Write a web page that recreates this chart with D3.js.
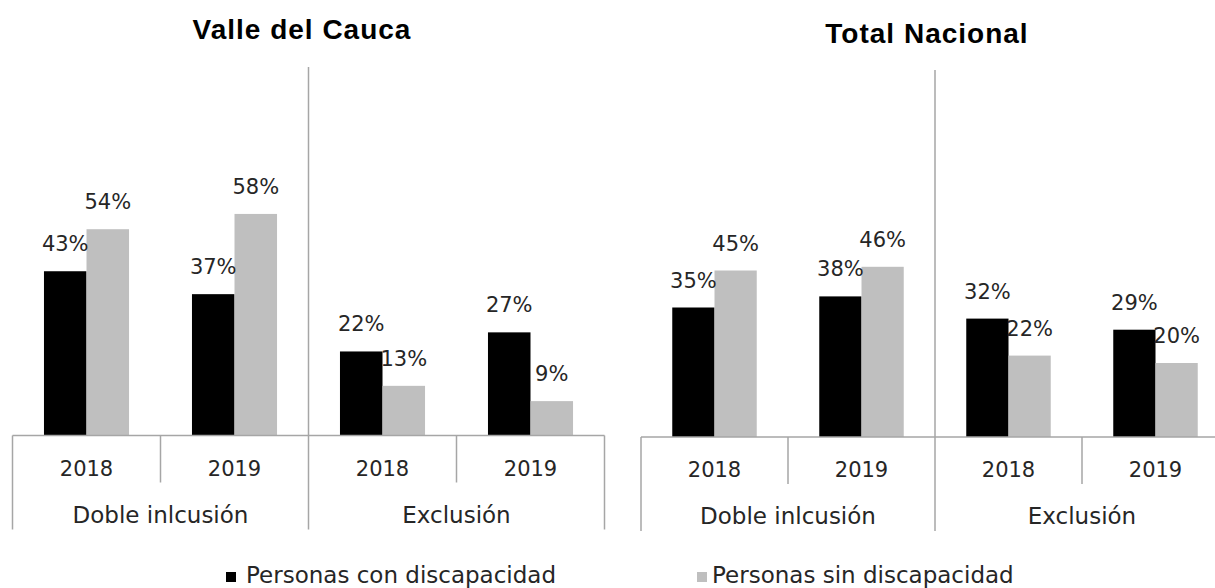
<!DOCTYPE html>
<html>
<head>
<meta charset="utf-8">
<script src="https://cdn.jsdelivr.net/npm/d3@7"></script>
<style>
  body { margin: 0; background: #fff; }
  svg { display: block; }
</style>
</head>
<body>
<div class="chart"></div>
<script>
//Chart values
var panelTitles = ["Valle del Cauca", "Total Nacional"];
var groups = ["Doble inlcusión", "Exclusión"];
var years = ["2018", "2019"];
var series = ["Personas con discapacidad", "Personas sin discapacidad"];
var valleCon = [0.43, 0.37, 0.22, 0.27];
var valleSin = [0.54, 0.58, 0.13, 0.09];
var nacionalCon = [0.35, 0.38, 0.32, 0.29];
var nacionalSin = [0.45, 0.46, 0.22, 0.20];

//Width and height
var w = 1215;
var h = 588;
var font = "'DejaVu Sans', sans-serif";
var textColor = "#262626";
var lineColor = "#a6a6a6";

var color = d3.scaleOrdinal().domain(series).range(["#000000", "#bfbfbf"]);
var pct = d3.format(".0%");

//Layout of each panel
var panels = [
    { title: panelTitles[0], con: valleCon, sin: valleSin, left: 12.5, right: 604.5, base: 435.5, full: 53.5, top: 67, titleX: 302, titleY: 39 },
    { title: panelTitles[1], con: nacionalCon, sin: nacionalSin, left: 641, right: 1229, base: 437, full: 67, top: 70, titleX: 927, titleY: 43 }
];

var svg = d3.select(".chart")
    .append("svg")
    .attr("width", w)
    .attr("height", h);

panels.forEach(p => {
    var cats = [];
    groups.forEach(g => years.forEach(y => cats.push({ group: g, year: y })));
    cats.forEach((c, i) => { c.values = [p.con[i], p.sin[i]]; });

    var xScale = d3.scaleBand()
        .domain(d3.range(cats.length))
        .range([p.left, p.right]);

    var xGroup = d3.scaleBand()
        .domain(groups)
        .range([p.left, p.right]);

    var xSeries = d3.scaleBand()
        .domain(series)
        .range([0, xScale.bandwidth()])
        .paddingOuter(0.74);

    var yScale = d3.scaleLinear()
        .domain([0, 1])
        .range([p.base, p.full]);

    var g = svg.append("g");

    //Title
    g.append("text")
        .attr("x", p.titleX)
        .attr("y", p.titleY)
        .attr("text-anchor", "middle")
        .style("font-family", "'Liberation Sans', Arial, sans-serif")
        .style("font-weight", "bold")
        .style("font-size", "28px")
        .style("letter-spacing", "1px")
        .style("fill", "#000")
        .text(p.title);

    //Bars
    var cat = g.selectAll(".cat")
        .data(cats)
        .enter()
        .append("g")
        .attr("class", "cat")
        .attr("transform", (d, i) => "translate(" + xScale(i) + ",0)");

    cat.selectAll("rect")
        .data(d => d.values.map((v, j) => ({ key: series[j], value: v })))
        .enter()
        .append("rect")
        .attr("x", d => xSeries(d.key))
        .attr("y", d => yScale(d.value))
        .attr("width", xSeries.bandwidth())
        .attr("height", d => yScale(0) - yScale(d.value))
        .style("fill", d => color(d.key));

    cat.selectAll(".label")
        .data(d => d.values.map((v, j) => ({ key: series[j], value: v })))
        .enter()
        .append("text")
        .attr("class", "label")
        .attr("x", d => xSeries(d.key) + xSeries.bandwidth() / 2)
        .attr("y", d => yScale(d.value) - 20)
        .attr("text-anchor", "middle")
        .style("font-family", font)
        .style("font-size", "21px")
        .style("fill", textColor)
        .text(d => pct(d.value));

    //Year labels
    var yearAxis = d3.axisBottom(xScale)
        .tickSize(0)
        .tickPadding(0)
        .tickFormat(i => cats[i].year);
    var ax = g.append("g")
        .attr("transform", "translate(0," + (p.base + 40) + ")")
        .call(yearAxis);
    ax.select(".domain").remove();
    ax.selectAll("text")
        .attr("dy", 0)
        .attr("y", 0)
        .style("font-family", font)
        .style("font-size", "21px")
        .style("fill", textColor);

    //Group labels
    g.selectAll(".group")
        .data(groups)
        .enter()
        .append("text")
        .attr("class", "group")
        .attr("x", d => xGroup(d) + xGroup.bandwidth() / 2)
        .attr("y", p.base + 87)
        .attr("text-anchor", "middle")
        .style("font-family", font)
        .style("font-size", "23px")
        .style("fill", textColor)
        .text(d => d);

    //Axis lines
    var lines = g.append("g")
        .style("stroke", lineColor)
        .style("stroke-width", 1.5)
        .style("fill", "none");

    lines.append("line")
        .attr("x1", p.left).attr("x2", p.right)
        .attr("y1", p.base).attr("y2", p.base);

    //Year separators
    [1, 3].forEach(i => {
        lines.append("line")
            .attr("x1", xScale(i)).attr("x2", xScale(i))
            .attr("y1", p.base).attr("y2", p.base + 47);
    });

    //Panel edges
    [p.left, p.right].forEach(x => {
        lines.append("line")
            .attr("x1", x).attr("x2", x)
            .attr("y1", p.base).attr("y2", p.base + 94);
    });

    //Group separator through the plot
    var mid = xGroup(groups[1]);
    lines.append("line")
        .attr("x1", mid).attr("x2", mid)
        .attr("y1", p.top).attr("y2", p.base + 94);
});

//Legend
var legendPos = [{ x: 226, tx: 246 }, { x: 697, tx: 712 }];
var legend = svg.selectAll(".legend")
    .data(series)
    .enter()
    .append("g")
    .attr("class", "legend");

legend.append("rect")
    .attr("x", (d, i) => legendPos[i].x)
    .attr("y", 572)
    .attr("width", 10)
    .attr("height", 10)
    .style("fill", color);

legend.append("text")
    .attr("x", (d, i) => legendPos[i].tx)
    .attr("y", 583)
    .style("font-family", font)
    .style("font-size", "23px")
    .style("fill", textColor)
    .text(d => d);
</script>
</body>
</html>
